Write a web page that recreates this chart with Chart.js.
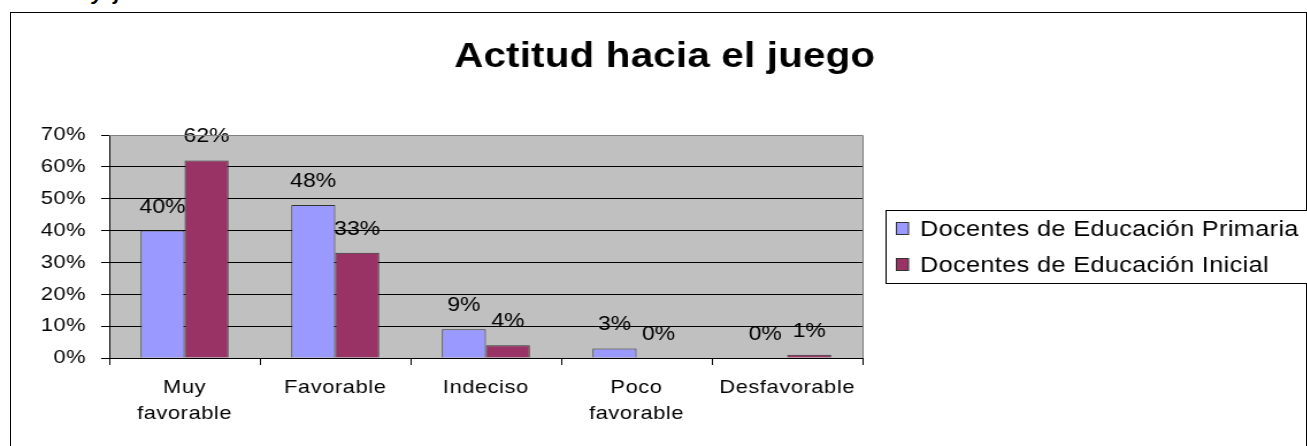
<!DOCTYPE html>
<html>
<head>
<meta charset="utf-8">
<script src="https://cdn.jsdelivr.net/npm/chart.js@4.4.0/dist/chart.umd.min.js"></script>
<style>
html, body { margin: 0; padding: 0; background: #fff; overflow: hidden; }
#wrap { position: relative; width: 1307px; height: 446px; overflow: hidden; }
#frame { position: absolute; left: 10px; top: 12px; width: 1295px; height: 440px; border: 1px solid #000; border-bottom: none; }
#cut { position: absolute; left: 92px; top: -19px; font: italic bold 21px "Liberation Sans"; word-spacing: 5px; }
/* the reference text is a bit wide, so the canvas is stretched sideways */
canvas { position: absolute; left: 0; top: 0; transform: scaleX(1.15); transform-origin: 0 0; }
</style>
</head>
<body>
<div id="wrap">
  <div id="cut">y j</div>
  <div id="frame"></div>
  <canvas id="myChart" width="1137" height="446"></canvas>
</div>
<script>
const categorias = [['Muy', 'favorable'], 'Favorable', 'Indeciso', ['Poco', 'favorable'], 'Desfavorable'];
const primaria = [40, 48, 9, 3, 0];
const inicial = [62, 33, 4, 0, 1];
const serieNombres = ['Docentes de Educación Primaria', 'Docentes de Educación Inicial'];
const serieColores = ['#9999FF', '#993366'];
const titulo = 'Actitud hacia el juego';

const FUENTE = '"Liberation Sans", Arial, sans-serif';

// fondo gris del area y borde gris arriba/derecha
const fondo = {
    id: 'fondo',
    beforeDraw(chart) {
        const a = chart.chartArea;
        const ctx = chart.ctx;
        ctx.save();
        ctx.fillStyle = '#C0C0C0';
        ctx.fillRect(a.left, a.top, a.right - a.left, a.bottom - a.top);
        ctx.restore();
        ctx.letterSpacing = '0.5px';
    },
    afterDraw(chart) {
        const a = chart.chartArea;
        const ctx = chart.ctx;
        ctx.save();
        ctx.strokeStyle = '#808080';
        ctx.lineWidth = 1;
        ctx.beginPath();
        ctx.moveTo(a.left, Math.round(a.top) + 0.5);
        ctx.lineTo(Math.round(a.right) + 0.5, Math.round(a.top) + 0.5);
        ctx.lineTo(Math.round(a.right) + 0.5, a.bottom);
        ctx.stroke();
        ctx.restore();
    }
};

// titulo y leyenda
const extras = {
    id: 'extras',
    afterDraw(chart) {
        const ctx = chart.ctx;
        ctx.save();
        ctx.fillStyle = '#000';
        ctx.font = 'bold 35px ' + FUENTE;
        ctx.letterSpacing = '0.2px';
        ctx.textAlign = 'center';
        ctx.textBaseline = 'alphabetic';
        ctx.fillText(titulo, 578, 67);

        // caja de la leyenda
        ctx.strokeStyle = '#000';
        ctx.lineWidth = 1;
        ctx.fillStyle = '#fff';
        ctx.fillRect(770.5, 210.5, 400, 73);
        ctx.strokeRect(770.5, 210.5, 400, 73);

        ctx.font = '22px ' + FUENTE;
        ctx.letterSpacing = '0.3px';
        ctx.textAlign = 'left';
        ctx.textBaseline = 'middle';
        chart.data.datasets.forEach((ds, i) => {
            const y = 229 + i * 36;
            ctx.fillStyle = ds.backgroundColor;
            ctx.fillRect(779.5, y - 6.5, 10.5, 12);
            ctx.strokeStyle = '#333';
            ctx.strokeRect(779.5, y - 6.5, 10.5, 12);
            ctx.fillStyle = '#000';
            ctx.fillText(ds.label, 800, y + 1);
        });
        ctx.restore();
    }
};

// etiquetas de valores encima de las barras
const etiquetas = {
    id: 'etiquetas',
    afterDatasetsDraw(chart) {
        const ctx = chart.ctx;
        ctx.save();
        ctx.font = '20px ' + FUENTE;
        ctx.letterSpacing = '0px';
        ctx.fillStyle = '#000';
        ctx.textAlign = 'center';
        ctx.textBaseline = 'alphabetic';
        chart.data.datasets.forEach((ds, i) => {
            chart.getDatasetMeta(i).data.forEach((bar, j) => {
                ctx.fillText(ds.data[j] + '%', bar.x, bar.y - 18);
            });
        });
        ctx.restore();
    }
};

const ctx = document.querySelector('#myChart').getContext('2d');
const myChart = new Chart(ctx, {
    type: 'bar',
    data: {
        labels: categorias,
        datasets: [{
            label: serieNombres[0],
            data: primaria,
            backgroundColor: serieColores[0],
            borderColor: '#333',
            borderWidth: 1
        }, {
            label: serieNombres[1],
            data: inicial,
            backgroundColor: serieColores[1],
            borderColor: '#333',
            borderWidth: 1
        }]
    },
    options: {
        responsive: false,
        animation: false,
        devicePixelRatio: 1,
        layout: {
            padding: { top: 135, right: 387, left: 0, bottom: 0 }
        },
        datasets: {
            bar: { categoryPercentage: 0.584, barPercentage: 1 }
        },
        plugins: {
            legend: { display: false },
            title: { display: false },
            tooltip: { enabled: false }
        },
        scales: {
            x: {
                grid: { offset: true, drawOnChartArea: false, tickLength: 7, tickColor: '#000' },
                border: { color: '#000' },
                ticks: {
                    color: '#000',
                    padding: 10,
                    maxRotation: 0,
                    autoSkip: false,
                    font: { family: FUENTE, size: 19, lineHeight: 1.37 }
                },
                afterFit: function (scale) { scale.height = 88; }
            },
            y: {
                min: 0,
                max: 70,
                grid: {
                    color: (c) => (c.tick && c.tick.value === 70 ? '#808080' : '#000'),
                    tickColor: '#000',
                    tickLength: 7
                },
                border: { color: '#000' },
                ticks: {
                    stepSize: 10,
                    color: '#000',
                    padding: 13,
                    font: { family: FUENTE, size: 19 },
                    callback: (v) => v + '%'
                },
                afterFit: function (scale) { scale.width = 95; }
            }
        }
    },
    plugins: [fondo, etiquetas, extras]
});
</script>
</body>
</html>
